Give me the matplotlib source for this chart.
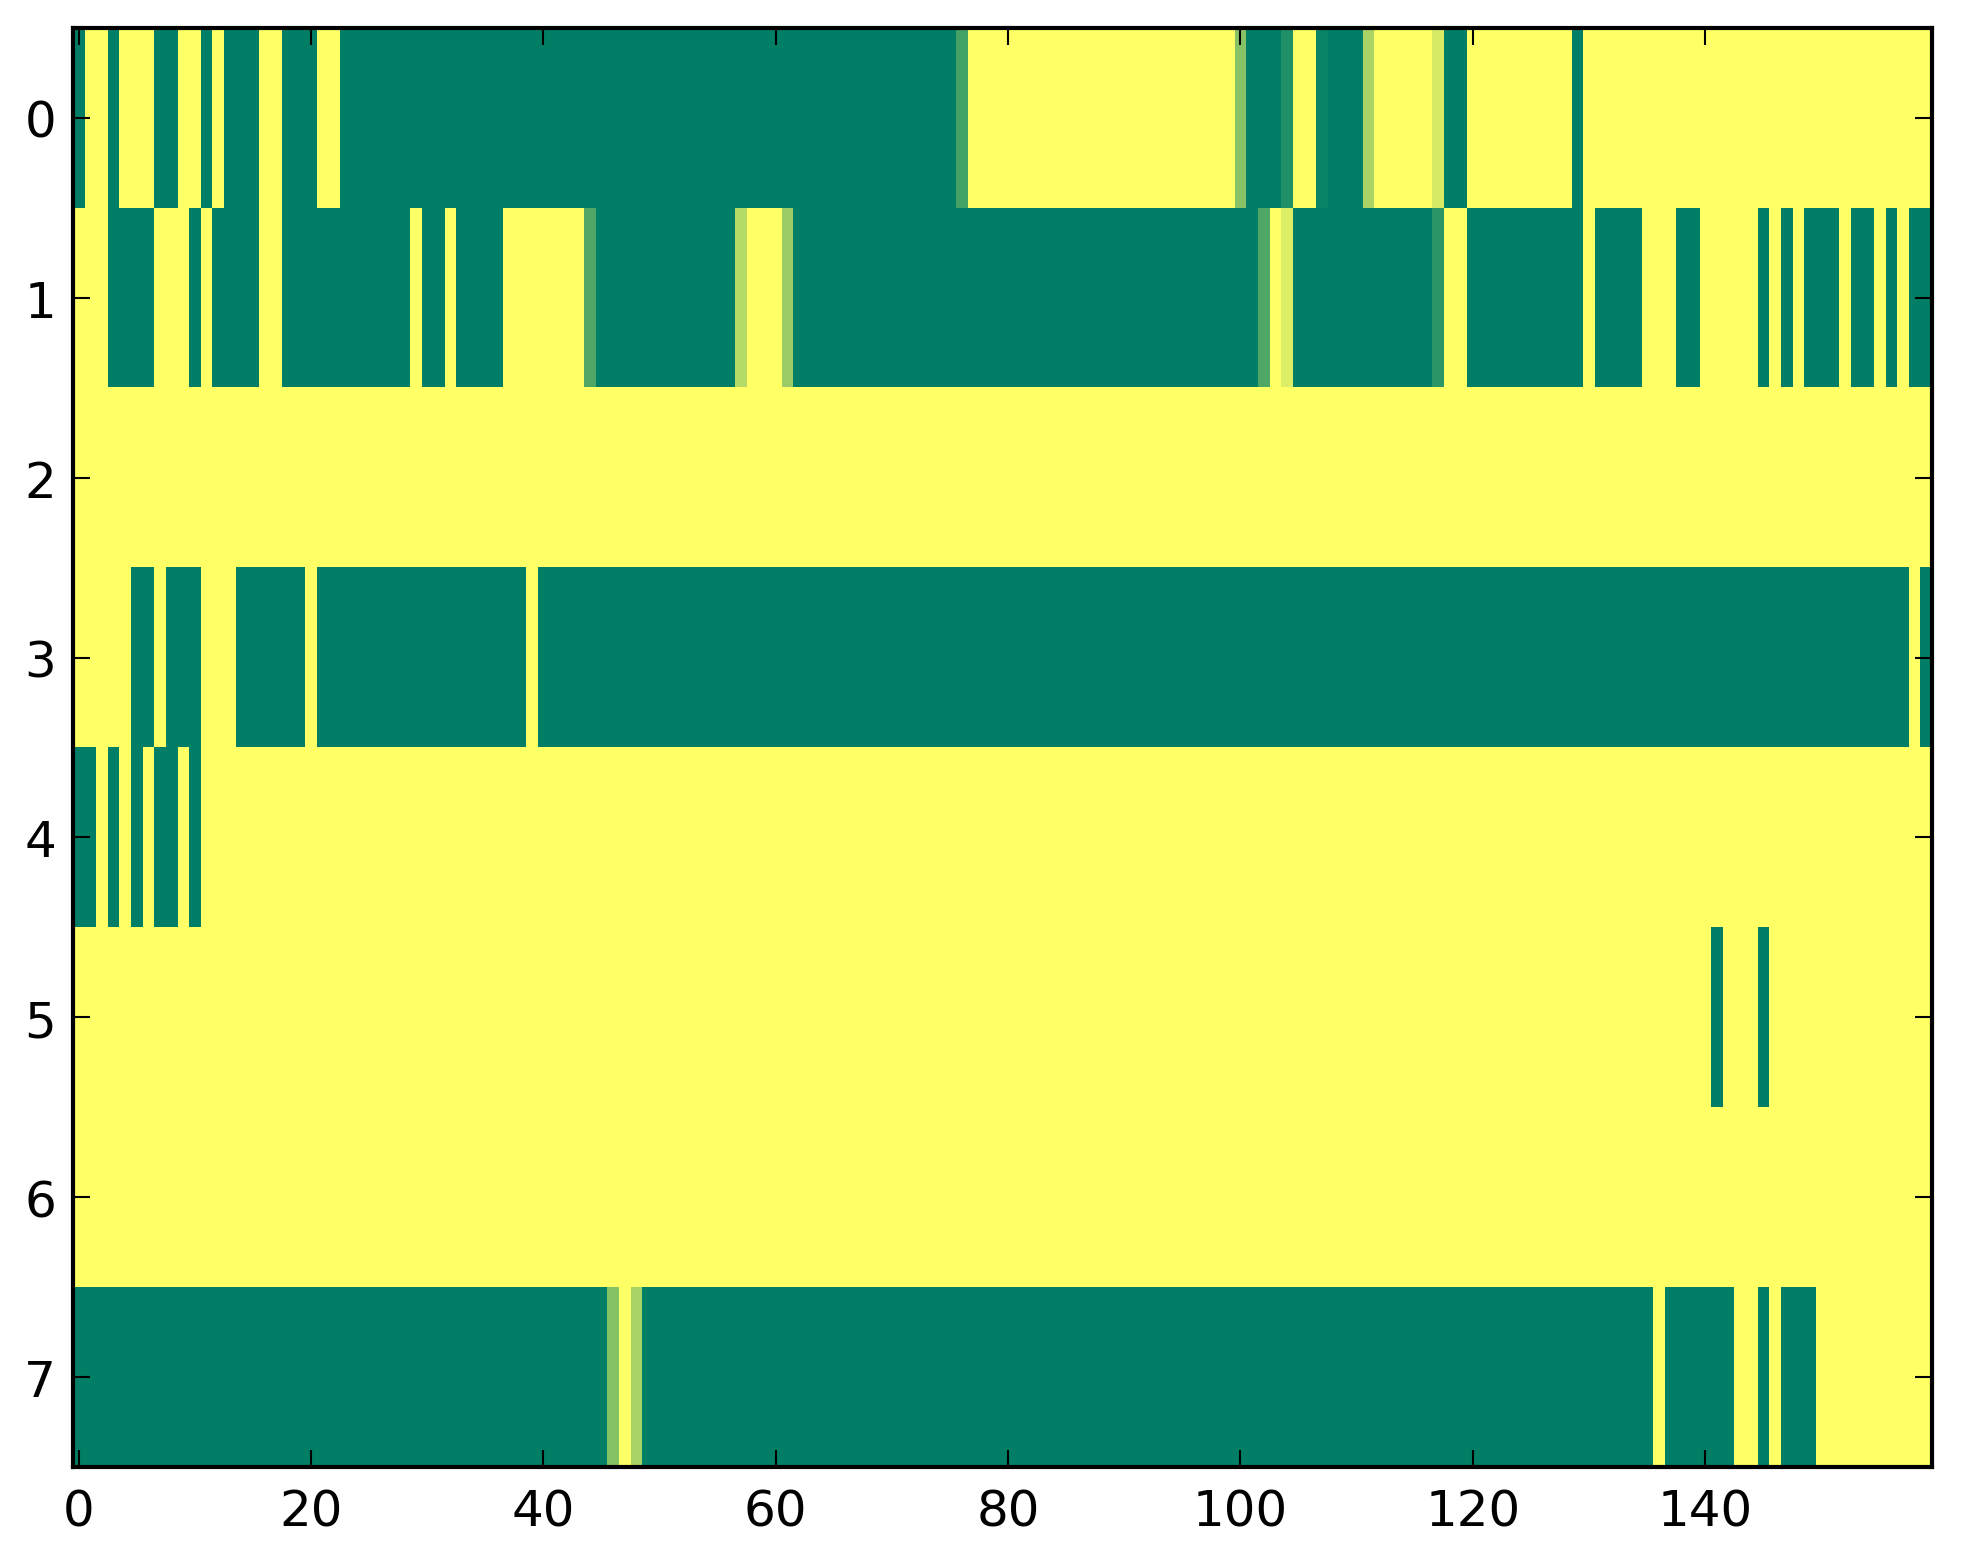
import numpy as np
import matplotlib
matplotlib.use("Agg")
import matplotlib.pyplot as plt

# Each row: 160 cell values (0 = green, 1 = yellow in the 'summer' colormap)
row0 = [0, 1, 1, 0, 1, 1, 1, 0, 0, 1, 1, 0, 1, 0, 0, 0, 1, 1, 0, 0,
        0, 1, 1, 0, 0, 0, 0, 0, 0, 0, 0, 0, 0, 0, 0, 0, 0, 0, 0, 0,
        0, 0, 0, 0, 0, 0, 0, 0, 0, 0, 0, 0, 0, 0, 0, 0, 0, 0, 0, 0,
        0, 0, 0, 0, 0, 0, 0, 0, 0, 0, 0, 0, 0, 0, 0, 0, 0.27, 1, 1, 1,
        1, 1, 1, 1, 1, 1, 1, 1, 1, 1, 1, 1, 1, 1, 1, 1, 1, 1, 1, 1,
        0.53, 0, 0, 0, 0.13, 1, 1, 0.04, 0, 0, 0, 0.67, 1, 1, 1, 1, 1, 0.84, 0, 0,
        1, 1, 1, 1, 1, 1, 1, 1, 1, 0, 1, 1, 1, 1, 1, 1, 1, 1, 1, 1,
        1, 1, 1, 1, 1, 1, 1, 1, 1, 1, 1, 1, 1, 1, 1, 1, 1, 1, 1, 1]

row1 = [1, 1, 1, 0, 0, 0, 0, 1, 1, 1, 0, 1, 0, 0, 0, 0, 1, 1, 0, 0,
        0, 0, 0, 0, 0, 0, 0, 0, 0, 1, 0, 0, 1, 0, 0, 0, 0, 1, 1, 1,
        1, 1, 1, 1, 0.31, 0, 0, 0, 0, 0, 0, 0, 0, 0, 0, 0, 0, 0.71, 1, 1,
        1, 0.60, 0, 0, 0, 0, 0, 0, 0, 0, 0, 0, 0, 0, 0, 0, 0, 0, 0, 0,
        0, 0, 0, 0, 0, 0, 0, 0, 0, 0, 0, 0, 0, 0, 0, 0, 0, 0, 0, 0,
        0, 0, 0.31, 1, 0.86, 0, 0, 0, 0, 0, 0, 0, 0, 0, 0, 0, 0, 0.17, 1, 1,
        0, 0, 0, 0, 0, 0, 0, 0, 0, 0, 1, 0, 0, 0, 0, 1, 1, 1, 0, 0,
        1, 1, 1, 1, 1, 0, 1, 0, 1, 0, 0, 0, 1, 0, 0, 1, 0, 1, 0, 0]

row2 = [1, 1, 1, 1, 1, 1, 1, 1, 1, 1, 1, 1, 1, 1, 1, 1, 1, 1, 1, 1,
        1, 1, 1, 1, 1, 1, 1, 1, 1, 1, 1, 1, 1, 1, 1, 1, 1, 1, 1, 1,
        1, 1, 1, 1, 1, 1, 1, 1, 1, 1, 1, 1, 1, 1, 1, 1, 1, 1, 1, 1,
        1, 1, 1, 1, 1, 1, 1, 1, 1, 1, 1, 1, 1, 1, 1, 1, 1, 1, 1, 1,
        1, 1, 1, 1, 1, 1, 1, 1, 1, 1, 1, 1, 1, 1, 1, 1, 1, 1, 1, 1,
        1, 1, 1, 1, 1, 1, 1, 1, 1, 1, 1, 1, 1, 1, 1, 1, 1, 1, 1, 1,
        1, 1, 1, 1, 1, 1, 1, 1, 1, 1, 1, 1, 1, 1, 1, 1, 1, 1, 1, 1,
        1, 1, 1, 1, 1, 1, 1, 1, 1, 1, 1, 1, 1, 1, 1, 1, 1, 1, 1, 1]

row3 = [1, 1, 1, 1, 1, 0, 0, 1, 0, 0, 0, 1, 1, 1, 0, 0, 0, 0, 0, 0,
        1, 0, 0, 0, 0, 0, 0, 0, 0, 0, 0, 0, 0, 0, 0, 0, 0, 0, 0, 1,
        0, 0, 0, 0, 0, 0, 0, 0, 0, 0, 0, 0, 0, 0, 0, 0, 0, 0, 0, 0,
        0, 0, 0, 0, 0, 0, 0, 0, 0, 0, 0, 0, 0, 0, 0, 0, 0, 0, 0, 0,
        0, 0, 0, 0, 0, 0, 0, 0, 0, 0, 0, 0, 0, 0, 0, 0, 0, 0, 0, 0,
        0, 0, 0, 0, 0, 0, 0, 0, 0, 0, 0, 0, 0, 0, 0, 0, 0, 0, 0, 0,
        0, 0, 0, 0, 0, 0, 0, 0, 0, 0, 0, 0, 0, 0, 0, 0, 0, 0, 0, 0,
        0, 0, 0, 0, 0, 0, 0, 0, 0, 0, 0, 0, 0, 0, 0, 0, 0, 0, 1, 0]

row4 = [0, 0, 1, 0, 1, 0, 1, 0, 0, 1, 0, 1, 1, 1, 1, 1, 1, 1, 1, 1,
        1, 1, 1, 1, 1, 1, 1, 1, 1, 1, 1, 1, 1, 1, 1, 1, 1, 1, 1, 1,
        1, 1, 1, 1, 1, 1, 1, 1, 1, 1, 1, 1, 1, 1, 1, 1, 1, 1, 1, 1,
        1, 1, 1, 1, 1, 1, 1, 1, 1, 1, 1, 1, 1, 1, 1, 1, 1, 1, 1, 1,
        1, 1, 1, 1, 1, 1, 1, 1, 1, 1, 1, 1, 1, 1, 1, 1, 1, 1, 1, 1,
        1, 1, 1, 1, 1, 1, 1, 1, 1, 1, 1, 1, 1, 1, 1, 1, 1, 1, 1, 1,
        1, 1, 1, 1, 1, 1, 1, 1, 1, 1, 1, 1, 1, 1, 1, 1, 1, 1, 1, 1,
        1, 1, 1, 1, 1, 1, 1, 1, 1, 1, 1, 1, 1, 1, 1, 1, 1, 1, 1, 1]

row5 = [1, 1, 1, 1, 1, 1, 1, 1, 1, 1, 1, 1, 1, 1, 1, 1, 1, 1, 1, 1,
        1, 1, 1, 1, 1, 1, 1, 1, 1, 1, 1, 1, 1, 1, 1, 1, 1, 1, 1, 1,
        1, 1, 1, 1, 1, 1, 1, 1, 1, 1, 1, 1, 1, 1, 1, 1, 1, 1, 1, 1,
        1, 1, 1, 1, 1, 1, 1, 1, 1, 1, 1, 1, 1, 1, 1, 1, 1, 1, 1, 1,
        1, 1, 1, 1, 1, 1, 1, 1, 1, 1, 1, 1, 1, 1, 1, 1, 1, 1, 1, 1,
        1, 1, 1, 1, 1, 1, 1, 1, 1, 1, 1, 1, 1, 1, 1, 1, 1, 1, 1, 1,
        1, 1, 1, 1, 1, 1, 1, 1, 1, 1, 1, 1, 1, 1, 1, 1, 1, 1, 1, 1,
        1, 0, 1, 1, 1, 0, 1, 1, 1, 1, 1, 1, 1, 1, 1, 1, 1, 1, 1, 1]

row6 = [1, 1, 1, 1, 1, 1, 1, 1, 1, 1, 1, 1, 1, 1, 1, 1, 1, 1, 1, 1,
        1, 1, 1, 1, 1, 1, 1, 1, 1, 1, 1, 1, 1, 1, 1, 1, 1, 1, 1, 1,
        1, 1, 1, 1, 1, 1, 1, 1, 1, 1, 1, 1, 1, 1, 1, 1, 1, 1, 1, 1,
        1, 1, 1, 1, 1, 1, 1, 1, 1, 1, 1, 1, 1, 1, 1, 1, 1, 1, 1, 1,
        1, 1, 1, 1, 1, 1, 1, 1, 1, 1, 1, 1, 1, 1, 1, 1, 1, 1, 1, 1,
        1, 1, 1, 1, 1, 1, 1, 1, 1, 1, 1, 1, 1, 1, 1, 1, 1, 1, 1, 1,
        1, 1, 1, 1, 1, 1, 1, 1, 1, 1, 1, 1, 1, 1, 1, 1, 1, 1, 1, 1,
        1, 1, 1, 1, 1, 1, 1, 1, 1, 1, 1, 1, 1, 1, 1, 1, 1, 1, 1, 1]

row7 = [0, 0, 0, 0, 0, 0, 0, 0, 0, 0, 0, 0, 0, 0, 0, 0, 0, 0, 0, 0,
        0, 0, 0, 0, 0, 0, 0, 0, 0, 0, 0, 0, 0, 0, 0, 0, 0, 0, 0, 0,
        0, 0, 0, 0, 0, 0, 0.52, 1, 0.66, 0, 0, 0, 0, 0, 0, 0, 0, 0, 0, 0,
        0, 0, 0, 0, 0, 0, 0, 0, 0, 0, 0, 0, 0, 0, 0, 0, 0, 0, 0, 0,
        0, 0, 0, 0, 0, 0, 0, 0, 0, 0, 0, 0, 0, 0, 0, 0, 0, 0, 0, 0,
        0, 0, 0, 0, 0, 0, 0, 0, 0, 0, 0, 0, 0, 0, 0, 0, 0, 0, 0, 0,
        0, 0, 0, 0, 0, 0, 0, 0, 0, 0, 0, 0, 0, 0, 0, 0, 1, 0, 0, 0,
        0, 0, 0, 1, 1, 0, 1, 0, 0, 0, 1, 1, 1, 1, 1, 1, 1, 1, 1, 1]

x_ticks = [0, 20, 40, 60, 80, 100, 120, 140]
y_ticks = [0, 1, 2, 3, 4, 5, 6, 7]

data = np.array([row0, row1, row2, row3, row4, row5, row6, row7], dtype=float)

W, H = 1963, 1564
fig = plt.figure(figsize=(W / 300, H / 300), dpi=300, facecolor="white")
ax = fig.add_axes([72.8 / W, (H - 1468) / H, 1859 / W, 1439 / H])
ax.imshow(data, cmap="summer", vmin=0, vmax=1, aspect="auto",
          interpolation="nearest")

ax.set_xticks(x_ticks)
ax.set_yticks(y_ticks)
ax.tick_params(direction="in", top=True, right=True, length=4, width=0.5,
               labelsize=12)
ax.tick_params(axis="x", pad=5)
ax.tick_params(axis="y", pad=4)
for s in ax.spines.values():
    s.set_linewidth(1.0)

fig.savefig("out.png", dpi=300, facecolor="white")
